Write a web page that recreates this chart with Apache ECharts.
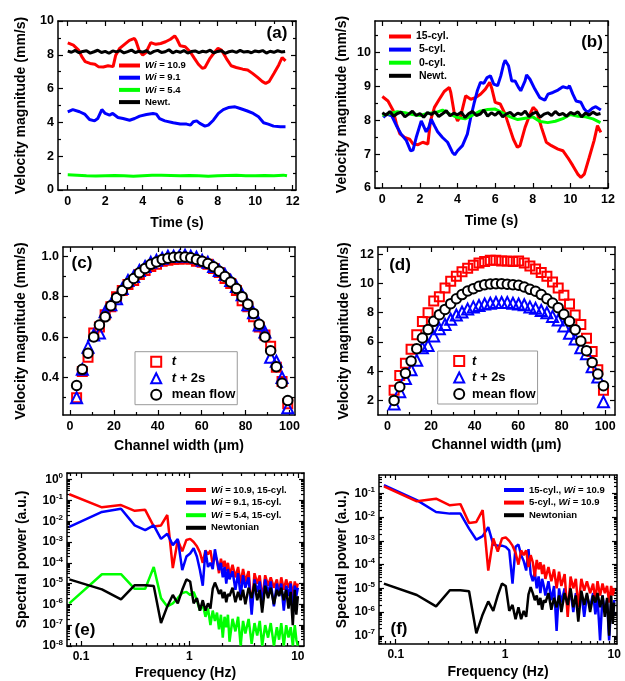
<!DOCTYPE html>
<html>
<head>
<meta charset="utf-8">
<script src="https://cdn.jsdelivr.net/npm/echarts@6/dist/echarts.min.js"></script>
<style>
    html, body {margin: 0; padding: 0; background: #fff;}
    #chart {width: 625px; height: 681px;}
</style>
</head>
<body>
<div id="chart"></div>
<script>
// ---------- data ----------
// (a)/(b) time traces, [time (s), velocity (mm/s)]
var red15cyl = [[0, 8.7], [0.3, 8.57], [0.58, 8.28], [0.75, 7.89], [0.93, 7.6], [1.19, 7.49], [1.45, 7.44], [1.63, 7.3],
    [1.9, 7.28], [2.15, 7.35], [2.42, 7.3], [2.56, 7.98], [2.77, 8.38], [3.03, 8.62], [3.29, 8.85], [3.56, 8.97],
    [3.64, 8.82], [3.82, 8.23], [4.0, 7.98], [4.17, 8.13], [4.43, 8.72], [4.7, 8.62], [4.96, 8.67], [5.22, 8.77],
    [5.48, 8.92], [5.71, 9.12], [5.83, 8.92], [6.0, 8.53], [6.27, 8.48], [6.53, 8.18], [6.76, 7.79], [6.97, 7.44],
    [7.18, 7.2], [7.32, 7.25], [7.59, 7.79], [7.85, 8.18], [8.02, 8.38], [8.2, 8.28], [8.46, 7.79], [8.72, 7.35],
    [8.99, 7.25], [9.34, 7.15], [9.6, 7.1], [9.86, 6.9], [10.13, 6.66], [10.39, 6.41], [10.56, 6.31], [10.74, 6.41],
    [11.0, 6.9], [11.26, 7.4], [11.44, 7.84], [11.62, 7.64]];
var blueWi91 = [[0, 4.63], [0.27, 4.76], [0.63, 4.63], [0.9, 4.49], [1.16, 4.17], [1.43, 4.09], [1.6, 4.23], [1.82, 4.76],
    [2.0, 4.53], [2.23, 4.43], [2.4, 4.53], [2.68, 4.29], [2.95, 4.23], [3.3, 4.13], [3.57, 4.23], [3.84, 4.37],
    [4.2, 4.47], [4.55, 4.53], [4.73, 4.49], [4.9, 4.23], [5.18, 4.09], [5.63, 3.98], [6.0, 3.9], [6.34, 3.9],
    [6.55, 3.84], [6.7, 4.04], [6.88, 4.09], [7.05, 3.94], [7.32, 3.78], [7.5, 3.84], [7.77, 4.13], [8.04, 4.53],
    [8.3, 4.76], [8.57, 4.88], [8.93, 4.92], [9.2, 4.82], [9.55, 4.69], [9.9, 4.53], [10.18, 4.33], [10.45, 3.98],
    [10.7, 3.9], [10.98, 3.78], [11.34, 3.74], [11.62, 3.74]];
var greenWi54 = [[0, 0.9], [0.5, 0.88], [1, 0.85], [1.5, 0.83], [2, 0.85], [2.5, 0.86], [3, 0.84], [3.5, 0.82], [4, 0.85],
    [4.5, 0.88], [5, 0.87], [5.5, 0.86], [6, 0.85], [6.5, 0.86], [7, 0.84], [7.5, 0.82], [8, 0.85], [8.5, 0.86],
    [9, 0.87], [9.5, 0.85], [10, 0.84], [10.5, 0.86], [11, 0.85], [11.5, 0.88], [11.7, 0.84]];
var newtTrace = [[0, 8.22], [0.2, 8.15], [0.4, 8.26], [0.6, 8.12], [0.8, 8.2], [1.0, 8.24], [1.2, 8.1], [1.4, 8.18],
    [1.6, 8.27], [1.8, 8.14], [2.0, 8.2], [2.2, 8.09], [2.4, 8.23], [2.6, 8.17], [2.8, 8.25], [3.0, 8.11], [3.2, 8.19],
    [3.4, 8.28], [3.6, 8.13], [3.8, 8.21], [4.0, 8.16], [4.2, 8.24], [4.4, 8.08], [4.6, 8.2], [4.8, 8.26], [5.0, 8.14],
    [5.2, 8.18], [5.4, 8.3], [5.6, 8.12], [5.8, 8.22], [6.0, 8.15], [6.2, 8.25], [6.4, 8.1], [6.6, 8.19], [6.8, 8.23],
    [7.0, 8.13], [7.2, 8.21], [7.4, 8.17], [7.6, 8.27], [7.8, 8.11], [8.0, 8.2], [8.2, 8.24], [8.4, 8.09], [8.6, 8.18],
    [8.8, 8.22], [9.0, 8.14], [9.2, 8.26], [9.4, 8.16], [9.6, 8.2], [9.8, 8.12], [10.0, 8.23], [10.2, 8.18],
    [10.4, 8.25], [10.6, 8.1], [10.8, 8.21], [11.0, 8.15], [11.2, 8.24], [11.4, 8.17], [11.6, 8.2]];
var blue5cyl = [[0.05, 8.08], [0.23, 8.18], [0.5, 8.13], [0.75, 7.84], [1.0, 7.59], [1.28, 7.4], [1.5, 7.1], [1.63, 7.12],
    [1.8, 7.49], [2.07, 7.98], [2.15, 7.94], [2.33, 7.66], [2.47, 7.79], [2.6, 8.03], [2.77, 7.84], [2.94, 7.66],
    [3.2, 7.49], [3.47, 7.35], [3.73, 7.05], [3.85, 6.98], [4.0, 7.1], [4.26, 7.25], [4.52, 7.59], [4.7, 8.08],
    [4.87, 8.48], [5.05, 8.87], [5.22, 9.12], [5.4, 9.09], [5.57, 9.26], [5.75, 9.31], [5.92, 9.07], [6.13, 9.02],
    [6.3, 9.31], [6.45, 9.66], [6.53, 9.77], [6.71, 9.61], [6.88, 9.16], [7.06, 9.16], [7.24, 8.97], [7.36, 8.87],
    [7.59, 9.16], [7.67, 9.34], [7.85, 9.21], [8.11, 8.92], [8.37, 8.67], [8.64, 8.59], [8.81, 8.77], [9.07, 8.82],
    [9.34, 8.89], [9.6, 8.99], [9.86, 8.95], [9.95, 9.02], [10.13, 8.77], [10.3, 8.57], [10.56, 8.53], [10.74, 8.33],
    [10.91, 8.23], [11.18, 8.36], [11.35, 8.4], [11.62, 8.3]];
var green0cyl = [[0, 8.15], [0.4, 8.2], [0.8, 8.25], [1.2, 8.22], [1.6, 8.17], [2.0, 8.14], [2.4, 8.2], [2.8, 8.22],
    [3.2, 8.3], [3.6, 8.18], [4.0, 8.08], [4.4, 8.04], [4.8, 8.15], [5.2, 8.27], [5.6, 8.32], [6.0, 8.33], [6.4, 8.22],
    [6.8, 8.1], [7.2, 8.02], [7.6, 8.06], [8.0, 8.1], [8.4, 7.96], [8.8, 7.93], [9.2, 7.97], [9.6, 8.05], [10.0, 8.17],
    [10.4, 8.12], [10.8, 8.1], [11.2, 8.04], [11.6, 7.93]];

// (c)/(d) velocity profiles across the channel
var channelX = [3.0, 5.6, 8.2, 10.8, 13.4, 16.0, 18.6, 21.2, 23.8, 26.4, 29.0, 31.6, 34.2, 36.8, 39.4, 42.0, 44.6, 47.2,
    49.8, 52.4, 55.0, 57.6, 60.2, 62.8, 65.4, 68.0, 70.6, 73.2, 75.8, 78.4, 81.0, 83.6, 86.2, 88.8, 91.4, 94.0, 96.6, 99.2];
var cT = [0.30, 0.43, 0.50, 0.62, 0.65, 0.71, 0.75, 0.80, 0.83, 0.86, 0.88, 0.91, 0.93, 0.95, 0.96, 0.975, 0.98, 0.985,
    0.985, 0.99, 0.985, 0.975, 0.97, 0.96, 0.94, 0.92, 0.89, 0.865, 0.83, 0.78, 0.75, 0.70, 0.65, 0.61, 0.555, 0.45,
    0.38, 0.27];
var cT2 = [0.30, 0.44, 0.55, 0.61, 0.62, 0.725, 0.76, 0.79, 0.84, 0.88, 0.90, 0.93, 0.95, 0.97, 0.98, 0.99, 1.0, 1.0,
    1.0, 1.005, 1.0, 0.995, 0.98, 0.97, 0.95, 0.93, 0.91, 0.88, 0.85, 0.81, 0.76, 0.72, 0.66, 0.625, 0.50, 0.48,
    0.40, 0.25];
var cMean = [0.36, 0.44, 0.52, 0.60, 0.66, 0.70, 0.755, 0.795, 0.83, 0.865, 0.89, 0.918, 0.94, 0.96, 0.972, 0.984,
    0.99, 0.995, 0.997, 0.997, 0.993, 0.984, 0.975, 0.964, 0.948, 0.926, 0.90, 0.873, 0.84, 0.80, 0.763, 0.717, 0.663,
    0.60, 0.532, 0.453, 0.371, 0.286];
var dT = [2.7, 3.7, 4.55, 5.5, 6.5, 7.4, 8.0, 8.8, 9.1, 9.7, 10.15, 10.5, 10.8, 11.05, 11.25, 11.4, 11.5, 11.6, 11.6,
    11.55, 11.55, 11.5, 11.55, 11.4, 11.2, 11.0, 10.75, 10.5, 10.1, 9.7, 9.2, 8.6, 7.85, 7.2, 6.25, 5.35, 4.1, 2.7];
var dT2 = [1.75, 2.6, 3.5, 4.1, 4.75, 5.6, 5.75, 6.4, 6.9, 7.2, 7.55, 7.85, 8.05, 8.25, 8.4, 8.5, 8.6, 8.65, 8.7, 8.7,
    8.7, 8.65, 8.6, 8.55, 8.4, 8.3, 8.15, 8.0, 7.75, 7.5, 7.1, 6.6, 6.2, 5.6, 5.2, 4.3, 3.6, 1.9];
var dMean = [2.0, 2.93, 3.85, 4.69, 5.54, 6.27, 6.86, 7.41, 7.87, 8.23, 8.62, 8.96, 9.24, 9.49, 9.65, 9.81, 9.92, 9.97,
    9.99, 9.99, 9.95, 9.92, 9.88, 9.76, 9.6, 9.47, 9.24, 8.96, 8.67, 8.35, 7.89, 7.41, 6.84, 6.06, 5.4, 4.6, 3.8, 3.0];

// (e)/(f) spectra: frequency (Hz) and log10 of spectral power
var specFreq = [0.078, 0.156, 0.234, 0.313, 0.391, 0.469, 0.547, 0.625, 0.703, 0.781, 0.859, 0.938, 1.016, 1.094,
    1.172, 1.25, 1.328, 1.406, 1.484, 1.563, 1.641, 1.719, 1.797, 1.875, 1.953, 2.031, 2.109, 2.188, 2.266, 2.344,
    2.5, 2.656, 2.813, 2.969, 3.125, 3.281, 3.516, 3.75, 3.984, 4.219, 4.453, 4.688, 5.0, 5.313, 5.625, 6.016, 6.406,
    6.719, 7.031, 7.422, 7.813, 8.203, 8.594, 8.984, 9.375, 9.688, 10.0];
var logRed109 = [-0.7, -1.33, -1.22, -1.5, -1.45, -2.25, -2.2, -1.7, -4.25, -2.9, -3.45, -2.9, -2.85, -3.0, -3.2, -3.5,
    -4.0, -3.4, -3.6, -3.4, -4.1, -3.6, -3.9, -4.5, -3.8, -4.2, -3.9, -4.4, -4.0, -4.6, -4.1, -4.7, -4.2, -5.0, -4.3,
    -4.9, -4.4, -6.2, -4.5, -5.0, -4.6, -5.8, -4.6, -5.1, -4.7, -5.2, -4.8, -5.5, -4.7, -5.3, -4.8, -5.2, -4.9, -5.6,
    -4.9, -5.3, -5.0];
var logBlue91 = [-2.27, -1.55, -1.4, -2.2, -2.43, -2.2, -2.85, -2.6, -3.15, -2.85, -4.35, -3.7, -3.55, -3.3, -3.7,
    -4.35, -5.1, -3.4, -4.2, -4.0, -4.3, -3.35, -3.9, -4.35, -4.0, -4.7, -4.2, -5.0, -4.3, -4.8, -4.4, -5.3, -4.5, -5.6,
    -4.6, -5.2, -4.7, -6.5, -4.8, -5.4, -4.9, -6.0, -4.8, -5.5, -4.9, -6.1, -5.0, -5.6, -5.0, -6.3, -5.1, -5.6, -5.0,
    -6.5, -5.1, -5.6, -5.2];
var logGreen54 = [-5.95, -4.55, -4.55, -5.25, -5.25, -4.2, -5.7, -6.1, -5.95, -5.7, -5.45, -5.4, -5.55, -5.4, -5.8,
    -6.3, -6.0, -6.6, -6.2, -7.0, -6.3, -6.8, -6.4, -7.2, -6.5, -7.6, -6.6, -7.1, -6.5, -7.8, -6.7, -7.3, -6.6, -7.99,
    -6.8, -7.4, -6.7, -7.9, -6.9, -7.5, -6.8, -7.99, -7.0, -7.6, -6.9, -7.99, -7.1, -7.7, -6.9, -7.99, -7.0, -7.6, -7.1,
    -7.99, -7.0, -7.7, -7.99];
var logNewt = [-4.8, -5.28, -5.76, -5.08, -5.08, -5.12, -6.9, -6.1, -5.55, -5.95, -5.3, -4.8, -4.9, -5.95, -5.7, -6.3,
    -5.8, -6.3, -5.95, -6.2, -5.25, -4.95, -5.2, -5.5, -5.3, -5.7, -5.4, -5.9, -5.5, -5.6, -5.2, -5.9, -5.4, -5.8, -5.3,
    -6.0, -5.2, -5.7, -5.0, -5.8, -5.3, -6.4, -5.1, -5.7, -5.2, -6.0, -5.3, -5.6, -5.2, -5.8, -5.3, -6.2, -5.4, -7.0,
    -5.3, -6.5, -5.6];
var logBlue15 = [-0.65, -1.28, -1.78, -1.85, -1.85, -2.48, -2.95, -2.8, -2.42, -3.15, -3.2, -3.2, -3.25, -3.4, -4.8,
    -3.25, -3.15, -3.6, -3.85, -4.25, -3.35, -4.4, -4.7, -4.3, -5.0, -4.5, -5.2, -4.6, -4.9, -5.3, -4.7, -5.5, -4.9,
    -6.8, -5.0, -5.6, -5.0, -5.8, -5.1, -6.0, -5.2, -5.6, -5.2, -6.2, -5.3, -5.8, -5.2, -6.1, -5.4, -7.2, -5.3, -6.0,
    -5.5, -7.2, -5.6, -6.2, -5.5];

// tick values
var timeTicks = [0, 2, 4, 6, 8, 10, 12], timeMinor = [1, 3, 5, 7, 9, 11];
var aTicksY = [0, 2, 4, 6, 8, 10], aMinorY = [1, 3, 5, 7, 9];
var bTicksY = [6, 7, 8, 9, 10], bMinorY = [6.5, 7.5, 8.5, 9.5, 10.5];
var widthTicks = [0, 20, 40, 60, 80, 100], widthMinor = [10, 30, 50, 70, 90];
var cTicksY = [0.4, 0.6, 0.8, 1.0], cMinorY = [0.3, 0.5, 0.7, 0.9];
var dTicksY = [2, 4, 6, 8, 10, 12], dMinorY = [3, 5, 7, 9, 11];
var freqTicks = [0.1, 1, 10];
var eTicksY = [1e-8, 1e-7, 1e-6, 1e-5, 1e-4, 1e-3, 1e-2, 1e-1, 1];
var fTicksY = [1e-7, 1e-6, 1e-5, 1e-4, 1e-3, 1e-2, 1e-1];

// ---------- helpers ----------
var FONT = '"Liberation Sans", Arial, Helvetica, sans-serif';
var xAxes = [], yAxes = [];

function logMinor(lo, hi) {
    var out = [];
    for (var e = -9; e <= 1; e++) {
        for (var m = 2; m <= 9; m++) {
            var v = m * Math.pow(10, e);
            if (v > lo && v < hi) out.push(v);
        }
    }
    return out;
}

function expLabel(v) {
    return '10{s|' + Math.round(Math.log10(v)) + '}';
}

function addAxes(dim, grid, o) {
    var list = dim === 'x' ? xAxes : yAxes;
    var pos = dim === 'x' ? ['bottom', 'top'] : ['left', 'right'];
    var mainIndex = list.length;

    function one(position, ticks, len, withLabels, withLine) {
        var ax = {
            gridIndex: grid, type: o.type || 'value', min: o.min, max: o.max, position: position,
            splitLine: {show: false},
            axisLine: {show: withLine, onZero: false, lineStyle: {color: '#000', width: 1.5}},
            axisTick: {show: true, inside: true, length: len, customValues: ticks,
                lineStyle: {color: '#000', width: 1.2}},
            axisLabel: {show: false},
            minorTick: {show: false}
        };
        if (withLabels) {
            ax.axisLabel = {
                show: true, customValues: ticks, margin: dim === 'x' ? 5 : 4,
                color: '#000', fontFamily: FONT, fontWeight: 'bold', fontSize: o.labelSize || 12.5,
                formatter: o.formatter,
                rich: {s: {fontSize: 8, fontWeight: 'bold', fontFamily: FONT, color: '#000', padding: [0, 0, 7, 0]}}
            };
            ax.name = o.name;
            ax.nameLocation = 'middle';
            ax.nameGap = o.nameGap;
            ax.nameMoveOverlap = false;
            ax.nameTextStyle = {color: '#000', fontFamily: FONT, fontWeight: 'bold', fontSize: 14};
        }
        list.push(ax);
    }

    one(pos[0], o.major, 5, true, true);
    one(pos[0], o.minor, 3, false, false);
    one(pos[1], o.major, 5, false, true);
    one(pos[1], o.minor, 3, false, false);
    return mainIndex;
}

function lineSeries(name, data, color, ax, width) {
    return {
        type: 'line', name: name, data: data, xAxisIndex: ax[0], yAxisIndex: ax[1],
        symbol: 'none', color: color, lineStyle: {color: color, width: width}
    };
}

function specData(logs) {
    return specFreq.map(function (f, i) { return [f, Math.pow(10, logs[i])]; });
}

function profile(ys) {
    return channelX.map(function (x, i) { return [x, ys[i]]; });
}

function scatterSeries(name, data, symbol, size, color, fill, ax) {
    return {
        type: 'scatter', name: name, data: data, xAxisIndex: ax[0], yAxisIndex: ax[1],
        symbol: symbol, symbolSize: size,
        itemStyle: {color: fill, borderColor: color, borderWidth: 2, opacity: 1}
    };
}

function lineLegend(names, left, top, size, gap, iw) {
    return {
        data: names, orient: 'vertical', left: left, top: top, padding: 0, itemGap: gap,
        itemWidth: iw, itemHeight: 4, icon: 'rect', selectedMode: false,
        textStyle: {
            fontFamily: FONT, fontWeight: 'bold', fontSize: size, color: '#000', lineHeight: size + 1.5,
            rich: {i: {fontStyle: 'italic', fontWeight: 'bold', fontSize: size, fontFamily: FONT,
                color: '#000', lineHeight: size + 1.5}}
        },
        formatter: function (n) { return n.replace('Wi', '{i|Wi}'); }
    };
}

function symLegend(left, top, padL, textPad) {
    return {
        data: ['t', 't + 2s', 'mean flow'], orient: 'vertical', left: left, top: top,
        padding: [3, 2, 3, padL], itemGap: 2.5, itemWidth: 10, itemHeight: 10,
        borderColor: '#999', borderWidth: 1, selectedMode: false,
        textStyle: {
            fontFamily: FONT, fontWeight: 'bold', fontSize: 13, color: '#000', lineHeight: 14,
            padding: [0, 0, 0, textPad],
            rich: {i: {fontStyle: 'italic', fontWeight: 'bold', fontSize: 13, fontFamily: FONT,
                color: '#000', lineHeight: 14}}
        },
        formatter: function (n) { return n.replace(/^t/, '{i|t}'); }
    };
}

// ---------- layout ----------
var grids = [
    {left: 58, top: 21, width: 238, height: 169},
    {left: 375, top: 21, width: 233, height: 167},
    {left: 63, top: 247, width: 232, height: 168},
    {left: 378, top: 247, width: 237, height: 168},
    {left: 67, top: 473, width: 237, height: 173},
    {left: 379, top: 475, width: 238, height: 169}
].map(function (g) {
    g.containLabel = false;
    g.outerBoundsMode = 'none';
    return g;
});

var velName = 'Velocity magnitude (mm/s)';
var num = function (v) { return String(v); };
var axA = [addAxes('x', 0, {min: -0.52, max: 12.18, major: timeTicks, minor: timeMinor, name: 'Time (s)', nameGap: 26, formatter: num}),
    addAxes('y', 0, {min: 0, max: 10, major: aTicksY, minor: aMinorY, name: velName, nameGap: 30, formatter: num})];
var axB = [addAxes('x', 1, {min: -0.39, max: 12.0, major: timeTicks, minor: timeMinor, name: 'Time (s)', nameGap: 26, formatter: num}),
    addAxes('y', 1, {min: 6, max: 10.93, major: bTicksY, minor: bMinorY, name: velName, nameGap: 26, formatter: num})];
var axC = [addAxes('x', 2, {min: -3.2, max: 102.5, major: widthTicks, minor: widthMinor, name: 'Channel width (\u03bcm)', nameGap: 24, formatter: num}),
    addAxes('y', 2, {min: 0.214, max: 1.046, major: cTicksY, minor: cMinorY, name: velName, nameGap: 35,
        formatter: function (v) { return v.toFixed(1); }})];
var axD = [addAxes('x', 3, {min: -4.4, max: 104.5, major: widthTicks, minor: widthMinor, name: 'Channel width (\u03bcm)', nameGap: 23, formatter: num}),
    addAxes('y', 3, {min: 1.0, max: 12.5, major: dTicksY, minor: dMinorY, name: velName, nameGap: 27, formatter: num})];
var axE = [addAxes('x', 4, {type: 'log', min: 0.0743, max: 11.4, major: freqTicks, minor: logMinor(0.0743, 11.4), name: 'Frequency (Hz)', nameGap: 20, formatter: num, labelSize: 12}),
    addAxes('y', 4, {type: 'log', min: 0.99e-8, max: 2.1, major: eTicksY, minor: logMinor(1e-8, 2.1), name: 'Spectral power (a.u.)', nameGap: 38, formatter: expLabel, labelSize: 12})];
var axF = [addAxes('x', 5, {type: 'log', min: 0.0703, max: 10.6, major: freqTicks, minor: logMinor(0.0703, 10.6), name: 'Frequency (Hz)', nameGap: 21, formatter: num, labelSize: 12}),
    addAxes('y', 5, {type: 'log', min: 4.5e-8, max: 0.6, major: fTicksY, minor: logMinor(4.5e-8, 0.6), name: 'Spectral power (a.u.)', nameGap: 30, formatter: expLabel, labelSize: 12})];

var CLEAR = 'rgba(255,255,255,0)';
var series = [
    lineSeries('Wi = 10.9', red15cyl, '#ff0000', axA, 3),
    lineSeries('Wi = 9.1', blueWi91, '#0000ff', axA, 3),
    lineSeries('Wi = 5.4', greenWi54, '#00ff00', axA, 3),
    lineSeries('Newt.', newtTrace, '#000000', axA, 3),

    lineSeries('15-cyl.', red15cyl, '#ff0000', axB, 3),
    lineSeries(' 5-cyl.', blue5cyl, '#0000ff', axB, 3),
    lineSeries(' 0-cyl.', green0cyl, '#00ff00', axB, 3),
    lineSeries(' Newt.', newtTrace, '#000000', axB, 3),

    scatterSeries('t', profile(cT), 'rect', 9, '#ff0000', CLEAR, axC),
    scatterSeries('t + 2s', profile(cT2), 'triangle', 11, '#0000ff', CLEAR, axC),
    scatterSeries('mean flow', profile(cMean), 'circle', 9.5, '#000000', '#ffffff', axC),

    scatterSeries('t', profile(dT), 'rect', 9, '#ff0000', CLEAR, axD),
    scatterSeries('t + 2s', profile(dT2), 'triangle', 11, '#0000ff', CLEAR, axD),
    scatterSeries('mean flow', profile(dMean), 'circle', 9.5, '#000000', '#ffffff', axD),

    lineSeries('Wi = 10.9, 15-cyl.', specData(logRed109), '#ff0000', axE, 2.5),
    lineSeries('Wi = 9.1, 15-cyl.', specData(logBlue91), '#0000ff', axE, 2.5),
    lineSeries('Wi = 5.4, 15-cyl.', specData(logGreen54), '#00ff00', axE, 2.5),
    lineSeries('Newtonian', specData(logNewt), '#000000', axE, 2.5),

    lineSeries('15-cyl., Wi = 10.9', specData(logBlue15), '#0000ff', axF, 2.5),
    lineSeries('5-cyl., Wi = 10.9', specData(logRed109), '#ff0000', axF, 2.5),
    lineSeries('Newtonian', specData(logNewt), '#000000', axF, 2.5)
];

var legends = [
    lineLegend(['Wi = 10.9', 'Wi = 9.1', 'Wi = 5.4', 'Newt.'], 119, 60, 9.5, 1.2, 21),
    lineLegend(['15-cyl.', ' 5-cyl.', ' 0-cyl.', ' Newt.'], 389, 30.5, 10.5, 1.1, 22),
    symLegend(135, 351.7, 15.2, 5.5),
    symLegend(437.7, 351, 15.5, 2.8),
    lineLegend(['Wi = 10.9, 15-cyl.', 'Wi = 9.1, 15-cyl.', 'Wi = 5.4, 15-cyl.', 'Newtonian'], 186, 484.5, 9.5, 1.6, 20),
    lineLegend(['15-cyl., Wi = 10.9', '5-cyl., Wi = 10.9', 'Newtonian'], 504, 484.5, 9.5, 1.6, 20)
];

function panelLabel(text, x, y) {
    return {
        type: 'text', x: x, y: y, z: 100,
        style: {text: text, fill: '#000', font: 'bold 17px ' + FONT, align: 'center', verticalAlign: 'middle'}
    };
}

var chart = echarts.init(document.getElementById('chart'), null, {renderer: 'canvas'});
chart.setOption({
    animation: false,
    backgroundColor: '#fff',
    grid: grids,
    xAxis: xAxes,
    yAxis: yAxes,
    legend: legends,
    series: series,
    graphic: [
        panelLabel('(a)', 277, 33),
        panelLabel('(b)', 592, 42),
        panelLabel('(c)', 82, 263),
        panelLabel('(d)', 400, 265),
        panelLabel('(e)', 85, 630),
        panelLabel('(f)', 399, 629)
    ]
});
</script>
</body>
</html>
